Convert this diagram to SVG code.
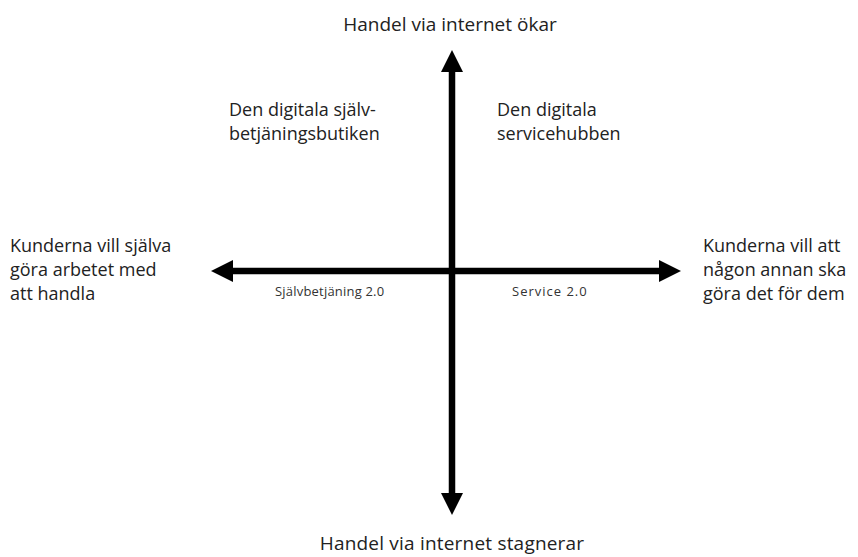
<svg xmlns="http://www.w3.org/2000/svg" width="858" height="557" viewBox="0 0 858 557">
  <style>
    .lbl { font-family: "Open Sans", "Noto Sans", sans-serif; font-size: 18px; fill: #222; }
    .big { font-size: 19px; }
    .sm { font-family: "Open Sans", "Noto Sans", sans-serif; font-size: 13px; fill: #333; }
    .axis { stroke: #000; stroke-width: 6.5; fill: none; }
    .head { fill: #000; }
  </style>
  <rect width="858" height="557" fill="#fff"/>
  <g id="connectors">
    <line class="axis" x1="452" y1="68" x2="452" y2="497"/>
    <polygon class="head" points="452,50 441,72 463,72"/>
    <polygon class="head" points="452,515 441,493 463,493"/>
    <line class="axis" x1="229" y1="271" x2="663" y2="271"/>
    <polygon class="head" points="211,271 233,260 233,282"/>
    <polygon class="head" points="681,271 659,260 659,282"/>
  </g>
  <g id="top"><text class="lbl big" x="450" y="31" text-anchor="middle">Handel via internet ökar</text></g>
  <g id="bottom"><text class="lbl big" x="452" y="550" text-anchor="middle" letter-spacing="0.2">Handel via internet stagnerar</text></g>
  <g id="q-left">
    <text class="lbl" x="229" y="116">Den digitala själv-</text>
    <text class="lbl" x="229" y="140">betjäningsbutiken</text>
  </g>
  <g id="q-right">
    <text class="lbl" x="497" y="116">Den digitala</text>
    <text class="lbl" x="497" y="140">servicehubben</text>
  </g>
  <g id="left">
    <text class="lbl" x="10" y="252">Kunderna vill själva</text>
    <text class="lbl" x="10" y="276">göra arbetet med</text>
    <text class="lbl" x="10" y="300">att handla</text>
  </g>
  <g id="right">
    <text class="lbl" x="703" y="252">Kunderna vill att</text>
    <text class="lbl" x="703" y="276">någon annan ska</text>
    <text class="lbl" x="703" y="300">göra det för dem</text>
  </g>
  <g id="self-service"><text class="sm" x="275" y="296" letter-spacing="0.2">Självbetjäning 2.0</text></g>
  <g id="service"><text class="sm" x="512" y="296" letter-spacing="1">Service 2.0</text></g>
</svg>
